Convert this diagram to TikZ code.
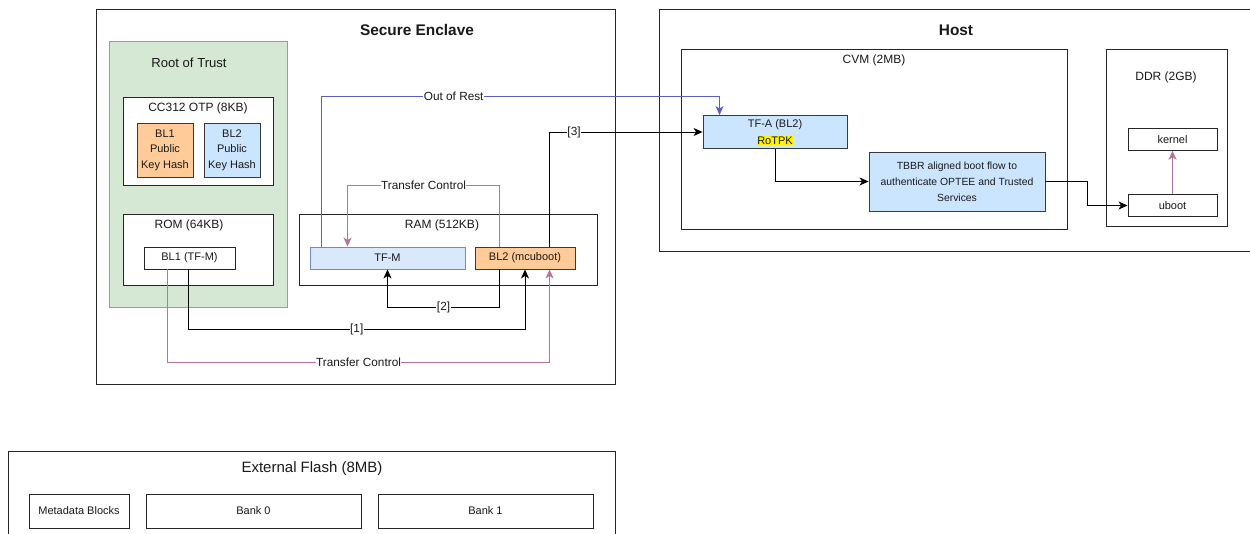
\documentclass[tikz,border=0pt]{standalone}
\usepackage{fontspec}
\setmainfont{Liberation Sans}
\usetikzlibrary{arrows.meta,positioning,calc}

\definecolor{rotfill}{HTML}{D5E8D4}
\definecolor{rotdraw}{HTML}{82B366}
\definecolor{orfill}{HTML}{FFCC99}
\definecolor{bufill}{HTML}{CCE5FF}
\definecolor{tmfill}{HTML}{DAE8FC}
\definecolor{tmdraw}{HTML}{6C8EBF}
\definecolor{dkdraw}{HTML}{36393D}
\definecolor{pinkln}{HTML}{B5739D}
\definecolor{blueln}{HTML}{5C5CCC}
\definecolor{txt}{HTML}{1A1A1A}

\tikzset{
  box/.style={draw=black!85, line width=0.9pt, fill=white, inner sep=0pt, text=txt,
    font=\fontsize{11}{13}\selectfont, align=center},
  rotbox/.style={box, fill=rotfill, draw=rotdraw},
  keybox/.style={box, draw=dkdraw, font=\fontsize{11}{15.5}\selectfont},
  tfmbox/.style={box, fill=tmfill, draw=tmdraw},
  bl2box/.style={box, fill=orfill, draw=dkdraw},
  hostbox/.style={box, fill=bufill, draw=dkdraw},
  ttl/.style={font=\fontsize{15.4}{18}\selectfont\bfseries, text=txt},
  ctitle/.style={font=\fontsize{12}{14}\selectfont, text=txt},
  lbl/.style={fill=white, inner sep=0.5pt, text=txt, font=\fontsize{11.8}{13}\selectfont},
  flow/.style={line width=0.9pt, -{Stealth[length=9pt,width=8pt,inset=2.5pt]}},
}

\begin{document}
\begin{tikzpicture}[x=1pt, y=-1pt]
  \useasboundingbox (0,0) rectangle (1250,533);
  %secure enclave
  \node [box, minimum width=519pt, minimum height=375pt] (se) at (355.5,196.5) {};
  \node [ttl] (setitle) at (417,30) {Secure Enclave};
  \node [rotbox, minimum width=178pt, minimum height=266pt] (rot) at (198,174) {};
  \node [ctitle, font=\fontsize{13.1}{15}\selectfont] (rottitle) at (189,63) {Root of Trust};
  \node [box, minimum width=150pt, minimum height=88pt] (otp) at (198,141) {};
  \node [ctitle] (otptitle) at (198,108) {CC312 OTP (8KB)};
  \node [keybox, fill=orfill, minimum width=56pt, minimum height=54pt] (bl1h) at (165,150) {BL1\\Public\\Key Hash};
  \node [keybox, fill=bufill, minimum width=56pt, minimum height=54pt] (bl2h) at (232,150) {BL2\\Public\\Key Hash};
  \node [box, minimum width=150pt, minimum height=71pt] (rom) at (198,249.5) {};
  \node [ctitle] (romtitle) at (189,225) {ROM (64KB)};
  \node [box, minimum width=91pt, minimum height=22pt] (bl1) at (189.5,258) {BL1 (TF-M)};
  \node [box, minimum width=298pt, minimum height=71pt] (ram) at (448,249.5) {};
  \node [ctitle] (ramtitle) at (442,225) {RAM (512KB)};
  \node [tfmbox, minimum width=155pt, minimum height=22pt] (tfm) at (387.5,258) {TF-M};
  \node [bl2box, minimum width=100pt, minimum height=22pt] (bl2) at (525,258) {BL2 (mcuboot)};
  %host
  \node [box, minimum width=593pt, minimum height=242pt] (host) at (955.5,130) {};
  \node [ttl] (hosttitle) at (956,30) {Host};
  \node [box, minimum width=386pt, minimum height=180pt] (cvm) at (874,139) {};
  \node [ctitle] (cvmtitle) at (874,60) {CVM (2MB)};
  \node [hostbox, font=\fontsize{11}{17}\selectfont, minimum width=144pt, minimum height=33pt] (tfa) at (775,132)
    {TF-A (BL2)\\{\setlength\fboxsep{0.4pt}\colorbox{yellow}{RoTPK}}};
  \node [hostbox, font=\fontsize{10.4}{16}\selectfont, minimum width=176pt, minimum height=59pt] (tbbr) at (957,181.5)
    {TBBR aligned boot flow to\\authenticate OPTEE and Trusted\\Services};
  \node [box, minimum width=121pt, minimum height=177pt] (ddr) at (1166.5,137.5) {};
  \node [ctitle] (ddrtitle) at (1166,77) {DDR (2GB)};
  \node [box, minimum width=89pt, minimum height=22pt] (kern) at (1172.5,139.3) {kernel};
  \node [box, minimum width=89pt, minimum height=22pt] (uboot) at (1172.5,205.5) {uboot};
  %flash
  \node [box, minimum width=607pt, minimum height=84pt] (flash) at (311.5,493) {};
  \node [ctitle, font=\fontsize{15}{17}\selectfont] (flashtitle) at (312,469) {External Flash (8MB)};
  \node [box, minimum width=100pt, minimum height=34pt] (meta) at (79,511) {Metadata Blocks};
  \node [box, minimum width=215pt, minimum height=34pt] (bank0) at (253.5,511) {Bank 0};
  \node [box, minimum width=215pt, minimum height=34pt] (bank1) at (485.5,511) {Bank 1};
  %connectors
  \draw [flow, blueln] ([xshift=12pt]tfm.north west) -- ++(0,-150)
    -| node [lbl, pos=0.166] {Out of Rest} ([xshift=17pt]tfa.north west);
  \draw [flow] ([xshift=75pt]bl2.north west) |- node [lbl, pos=0.58] {[3]} (tfa.west);
  \draw [flow, pinkln] ([xshift=25pt]bl2.north west) -- ++(0,-61)
    -| node [lbl, pos=0.25] {Transfer Control} ([xshift=38pt]tfm.north west);
  \draw [flow] ([xshift=25pt]bl2.south west) -- ++(0,38) -| node [lbl, pos=0.25] {[2]} (tfm.south);
  \draw [flow] ([xshift=45pt]bl1.south west) -- ++(0,60) -| node [lbl, pos=0.25] {[1]} (bl2.south);
  \draw [flow, pinkln] ([xshift=24pt]bl1.south west) -- ++(0,93)
    -| node [lbl, pos=0.25] {Transfer Control} ([xshift=75pt]bl2.south west);
  \draw [flow] (tfa.south) |- (tbbr.west);
  \draw [flow] (tbbr.east) -- ++(42,0) |- (uboot.west);
  \draw [flow, pinkln] (uboot.north) -- (kern.south);
\end{tikzpicture}
\end{document}
